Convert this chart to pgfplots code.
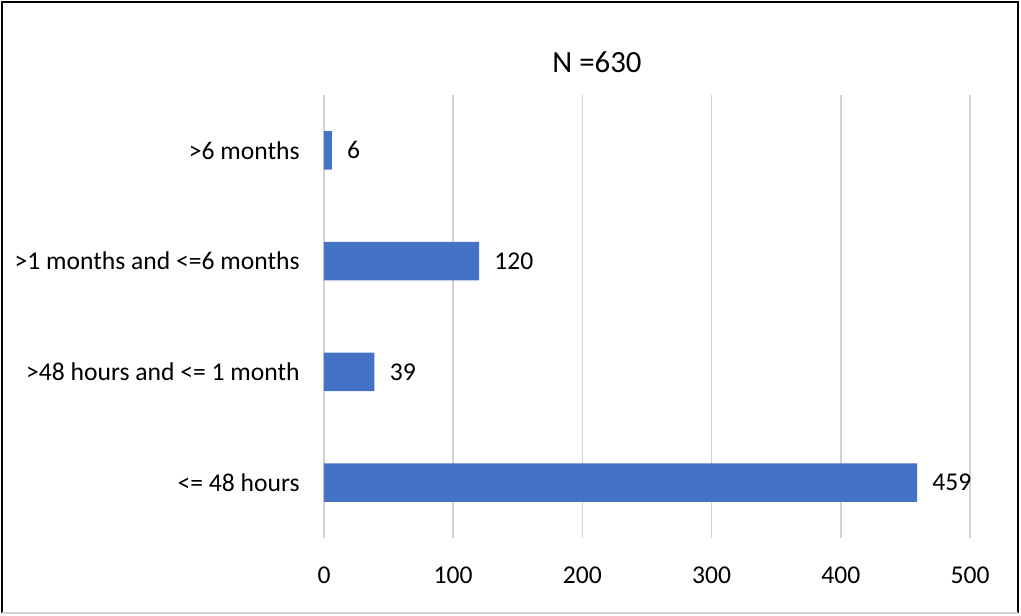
\documentclass[border=0pt]{standalone}
\usepackage{fontspec}
\setmainfont{Carlito}
\usepackage{pgfplots}
\pgfplotsset{compat=1.18}
\definecolor{barblue}{RGB}{68,114,196}
\definecolor{gridgray}{RGB}{210,210,210}
\begin{document}
\begin{tikzpicture}
% page extent: 1px = 0.5pt, axis lower-left at px (324,538)
\path[use as bounding box] (-162pt,-38.5pt) rectangle (348.5pt,269pt);
\draw[black, line width=1.2pt] (-161pt,-37.5pt) -- (-161pt,268pt) -- (347pt,268pt) -- (347pt,-37.5pt);
\draw[gridgray, line width=0.8pt] (-161pt,-37.5pt) -- (347pt,-37.5pt);
\begin{axis}[
  at={(0pt,0pt)}, anchor=south west,
  scale only axis, width=323pt, height=221.5pt,
  xbar, bar width=19.25pt,
  xmin=0, xmax=500, ymin=-0.5, ymax=3.5,
  xtick={0,100,200,300,400,500},
  ytick={0,1,2,3},
  yticklabels={{<= 48 hours},{>48 hours and <= 1 month},{>1 months and <=6 months},{>6 months}},
  xmajorgrids, grid style={gridgray, line width=0.8pt},
  axis line style={draw=none}, major tick length=0pt,
  /pgf/number format/assume math mode=true,
  font=\fontsize{12.8}{15}\selectfont,
  yticklabel style={anchor=east, inner sep=0pt, xshift=-12pt},
  xticklabel style={anchor=base, inner sep=0pt, yshift=-22.5pt},
  nodes near coords,
  nodes near coords style={anchor=west, inner sep=0pt, xshift=7.5pt, font=\fontsize{12.8}{15}\selectfont},
  clip=false,
]
\addplot[fill=barblue, draw=none] coordinates {(459,0) (39,1) (120,2) (6,3)};
\end{axis}
\node[font=\fontsize{15.4}{18}\selectfont] at (136.5pt,238pt) {N =630};
\end{tikzpicture}
\end{document}
